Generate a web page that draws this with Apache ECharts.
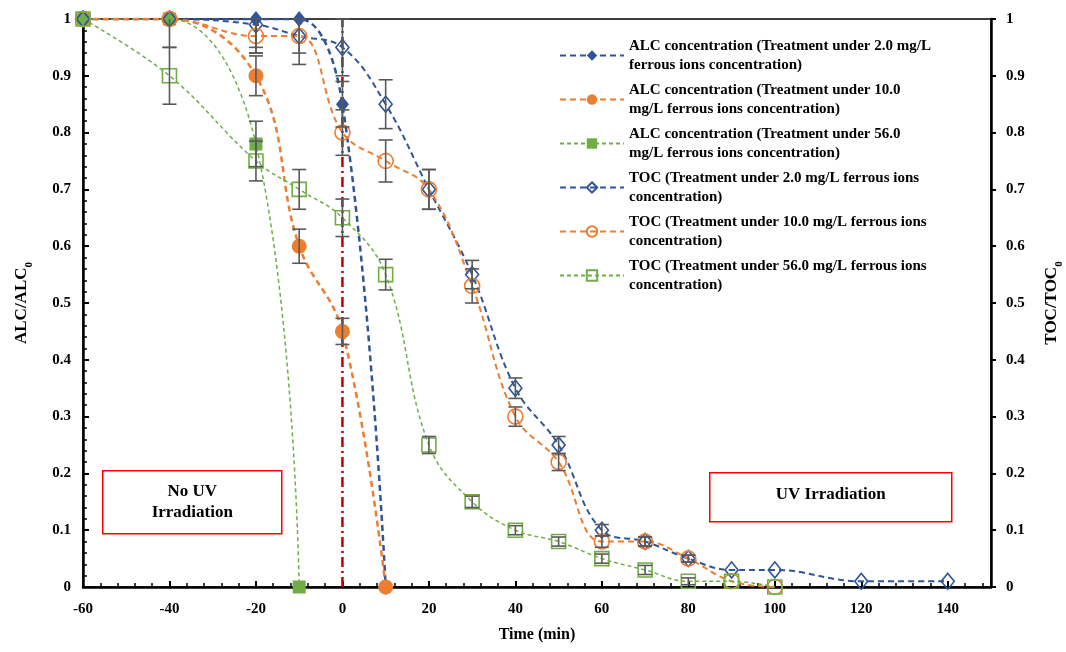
<!DOCTYPE html>
<html lang="en">
<head>
    <meta charset="UTF-8">
    <title>ALC / TOC removal</title>
    <script src="https://cdn.jsdelivr.net/npm/echarts@6/dist/echarts.min.js"></script>
    <style>
        html, body { margin: 0; padding: 0; background: #fff; }
    </style>
</head>
<body>
    <div id="main" style="width: 1066px;height:652px;"></div>
    <script type="text/javascript">
        // time points (min)
        var tALC2 = [-60, -40, -20, -10, 0, 10];
        var tALC10 = [-60, -40, -20, -10, 0, 10];
        var tALC56 = [-60, -40, -20, -10];
        var tTOC = [-60, -40, -20, -10, 0, 10, 20, 30, 40, 50, 60, 70, 80, 90, 100, 120, 140];
        var tTOC10 = [-60, -40, -20, -10, 0, 10, 20, 30, 40, 50, 60, 70, 80, 90, 100];
        var tTOC56 = [-60, -40, -20, -10, 0, 10, 20, 30, 40, 50, 60, 70, 80, 90, 100];

        // ALC/ALC0 values
        var alc2 = [1, 1, 1, 1, 0.85, 0];
        var alc10 = [1, 1, 0.9, 0.6, 0.45, 0];
        var alc56 = [1, 1, 0.78, 0];
        // TOC/TOC0 values
        var toc2 = [1, 1, 0.99, 0.97, 0.95, 0.85, 0.7, 0.55, 0.35, 0.25, 0.1, 0.08, 0.05, 0.03, 0.03, 0.01, 0.01];
        var toc10 = [1, 1, 0.97, 0.97, 0.8, 0.75, 0.7, 0.53, 0.3, 0.22, 0.08, 0.08, 0.05, 0.01, 0];
        var toc56 = [1, 0.9, 0.75, 0.7, 0.65, 0.55, 0.25, 0.15, 0.1, 0.08, 0.05, 0.03, 0.01, 0.01, 0];

        // error bar half widths
        var errALC2 = [0, 0, 0.05, 0, 0.04, 0];
        var errALC10 = [0, 0, 0.035, 0.03, 0.023, 0];
        var errALC56 = [0, 0, 0.04, 0];
        var errTOC2 = [0, 0.05, 0.05, 0.05, 0.05, 0.043, 0.035, 0.025, 0.018, 0.015, 0.01, 0.008, 0.006, 0, 0, 0, 0];
        var errTOC10 = [0, 0, 0.03, 0.03, 0.04, 0.037, 0.035, 0.03, 0.017, 0.015, 0.01, 0.008, 0.006, 0, 0];
        var errTOC56 = [0, 0.05, 0.035, 0.035, 0.033, 0.027, 0.015, 0.01, 0.008, 0.008, 0.008, 0.008, 0.006, 0, 0];

        // start of UV irradiation
        var tUV = [0, 0];
        var yUV = [0, 1];

        var names = [
            'ALC concentration (Treatment under 2.0 mg/L\nferrous ions concentration)',
            'ALC concentration (Treatment under 10.0\nmg/L ferrous ions concentration)',
            'ALC concentration (Treatment under 56.0\nmg/L ferrous ions concentration)',
            'TOC (Treatment under 2.0 mg/L ferrous ions\nconcentration)',
            'TOC (Treatment under 10.0 mg/L ferrous ions\nconcentration)',
            'TOC (Treatment under 56.0 mg/L ferrous ions\nconcentration)'
        ];

        var BLUE = '#2F5597', ORANGE = '#ED7D31', GREEN = '#70AD47';
        var FONT = 'Liberation Serif';

        function pairs(xs, ys) {
            return xs.map(function (x, i) { return [x, ys[i]]; });
        }
        function errData(xs, ys, es) {
            return xs.map(function (x, i) { return [x, ys[i] - es[i], ys[i] + es[i]]; })
                .filter(function (d) { return d[2] - d[1] > 0; });
        }

        function lineSeries(name, xs, ys, color, symbol, size, filled, width, dash) {
            return {
                name: name,
                type: 'line',
                data: pairs(xs, ys),
                smooth: 0.4,
                symbol: symbol,
                symbolSize: size,
                lineStyle: { color: color, width: width, type: dash },
                itemStyle: filled
                    ? { color: color }
                    : { color: 'rgba(255,255,255,0)', borderColor: color, borderWidth: 1.6 },
                emphasis: { disabled: true },
                z: 3
            };
        }

        function errSeries(xs, ys, es) {
            return {
                type: 'custom',
                data: errData(xs, ys, es),
                renderItem: function (params, api) {
                    var top = api.value(2);
                    var clipped = top > 1;
                    var lo = api.coord([api.value(0), api.value(1)]);
                    var hi = api.coord([api.value(0), Math.min(top, 1)]);
                    var w = 7;
                    var st = { stroke: '#595959', lineWidth: 1.6 };
                    var parts = [
                        { type: 'line', shape: { x1: lo[0], y1: lo[1], x2: hi[0], y2: hi[1] }, style: st },
                        { type: 'line', shape: { x1: lo[0] - w, y1: lo[1], x2: lo[0] + w, y2: lo[1] }, style: st }
                    ];
                    if (!clipped) {
                        parts.push({ type: 'line', shape: { x1: hi[0] - w, y1: hi[1], x2: hi[0] + w, y2: hi[1] }, style: st });
                    }
                    return { type: 'group', children: parts };
                },
                silent: true,
                z: 4
            };
        }

        var myChart = echarts.init(document.getElementById('main'));
        var axisLabelStyle = { fontFamily: FONT, fontWeight: 'bold', fontSize: 15, color: '#000' };

        var series = [
            lineSeries(names[0], tALC2, alc2, BLUE, 'diamond', [13, 16], true, 2.5, [6, 4]),
            lineSeries(names[1], tALC10, alc10, ORANGE, 'circle', 15, true, 2.5, [6, 4]),
            lineSeries(names[2], tALC56, alc56, GREEN, 'rect', 13, true, 1.5, [4, 3]),
            lineSeries(names[3], tTOC, toc2, BLUE, 'diamond', [13, 16], false, 2, [6, 4]),
            lineSeries(names[4], tTOC10, toc10, ORANGE, 'circle', 15, false, 2, [6, 4]),
            lineSeries(names[5], tTOC56, toc56, GREEN, 'rect', 14, false, 1.5, [4, 3]),
            {
                type: 'line',
                data: pairs(tUV, yUV),
                symbol: 'none',
                silent: true,
                lineStyle: { color: '#C00000', width: 2.5, type: [10, 4, 2, 4] },
                z: 2
            },
            errSeries(tALC2, alc2, errALC2),
            errSeries(tALC10, alc10, errALC10),
            errSeries(tALC56, alc56, errALC56),
            errSeries(tTOC, toc2, errTOC2),
            errSeries(tTOC10, toc10, errTOC10),
            errSeries(tTOC56, toc56, errTOC56)
        ];

        var option = {
            animation: false,
            backgroundColor: '#fff',
            grid: {
                left: 83, right: 75, top: 19, bottom: 65,
                outerBoundsMode: 'none',
                show: true, borderColor: '#000', borderWidth: 1.5
            },
            legend: {
                data: names,
                orient: 'vertical',
                left: 554, top: 31,
                itemWidth: 64, itemHeight: 13, itemGap: 5,
                textStyle: { fontFamily: FONT, fontWeight: 'bold', fontSize: 15, color: '#000', lineHeight: 19.5 }
            },
            xAxis: {
                type: 'value',
                min: -60, max: 150, interval: 20,
                name: 'Time (min)',
                nameLocation: 'middle',
                nameGap: 40,
                nameTextStyle: { fontFamily: FONT, fontWeight: 'bold', fontSize: 16, color: '#000' },
                axisLine: { onZero: false, lineStyle: { color: '#000', width: 2.5 } },
                axisTick: { inside: true, length: 6, lineStyle: { color: '#000', width: 2 } },
                minorTick: { show: true, splitNumber: 5, length: 4, lineStyle: { color: '#000', width: 1.5 } },
                splitLine: { show: false },
                axisLabel: Object.assign({ margin: 15, formatter: function (v) { return v > 140 ? '' : v; } }, axisLabelStyle)
            },
            yAxis: [{
                type: 'value',
                min: 0, max: 1, interval: 0.1,
                name: 'ALC/ALC{sub|0}',
                nameLocation: 'middle',
                nameGap: 48,
                nameTextStyle: {
                    fontFamily: FONT, fontWeight: 'bold', fontSize: 17, color: '#000',
                    rich: { sub: { fontFamily: FONT, fontWeight: 'bold', fontSize: 11, verticalAlign: 'bottom', lineHeight: 26 } }
                },
                axisLine: { show: true, onZero: false, lineStyle: { color: '#000', width: 2.5 } },
                axisTick: { inside: true, length: 6, lineStyle: { color: '#000', width: 2 } },
                minorTick: { show: true, splitNumber: 5, length: 4, lineStyle: { color: '#000', width: 1.5 } },
                splitLine: { show: false },
                axisLabel: Object.assign({ margin: 12 }, axisLabelStyle)
            }, {
                type: 'value',
                position: 'right',
                min: 0, max: 1, interval: 0.1,
                name: 'TOC/TOC{sub|0}',
                nameLocation: 'middle',
                nameGap: 48,
                nameRotate: 90,
                nameTextStyle: {
                    fontFamily: FONT, fontWeight: 'bold', fontSize: 17, color: '#000',
                    rich: { sub: { fontFamily: FONT, fontWeight: 'bold', fontSize: 11, verticalAlign: 'bottom', lineHeight: 26 } }
                },
                axisLine: { show: true, onZero: false, lineStyle: { color: '#000', width: 2.5 } },
                axisTick: { show: true, length: 5, lineStyle: { color: '#000', width: 2 } },
                splitLine: { show: false },
                axisLabel: Object.assign({ margin: 15 }, axisLabelStyle)
            }],
            graphic: [
                {
                    type: 'group', left: 102, top: 470,
                    children: [
                        { type: 'rect', shape: { x: 0, y: 0, width: 179, height: 63 }, style: { fill: '#fff', stroke: '#FF0000', lineWidth: 1.5 } },
                        { type: 'text', x: 89.5, y: 31.5, style: { text: 'No UV\nIrradiation', align: 'center', verticalAlign: 'middle', font: 'bold 17px "Liberation Serif"', lineHeight: 21, fill: '#000' } }
                    ]
                },
                {
                    type: 'group', left: 709, top: 472,
                    children: [
                        { type: 'rect', shape: { x: 0, y: 0, width: 242, height: 49 }, style: { fill: '#fff', stroke: '#FF0000', lineWidth: 1.5 } },
                        { type: 'text', x: 121, y: 22, style: { text: 'UV Irradiation', align: 'center', verticalAlign: 'middle', font: 'bold 17px "Liberation Serif"', fill: '#000' } }
                    ]
                }
            ],
            series: series
        };
        myChart.setOption(option);
    </script>
</body>
</html>
